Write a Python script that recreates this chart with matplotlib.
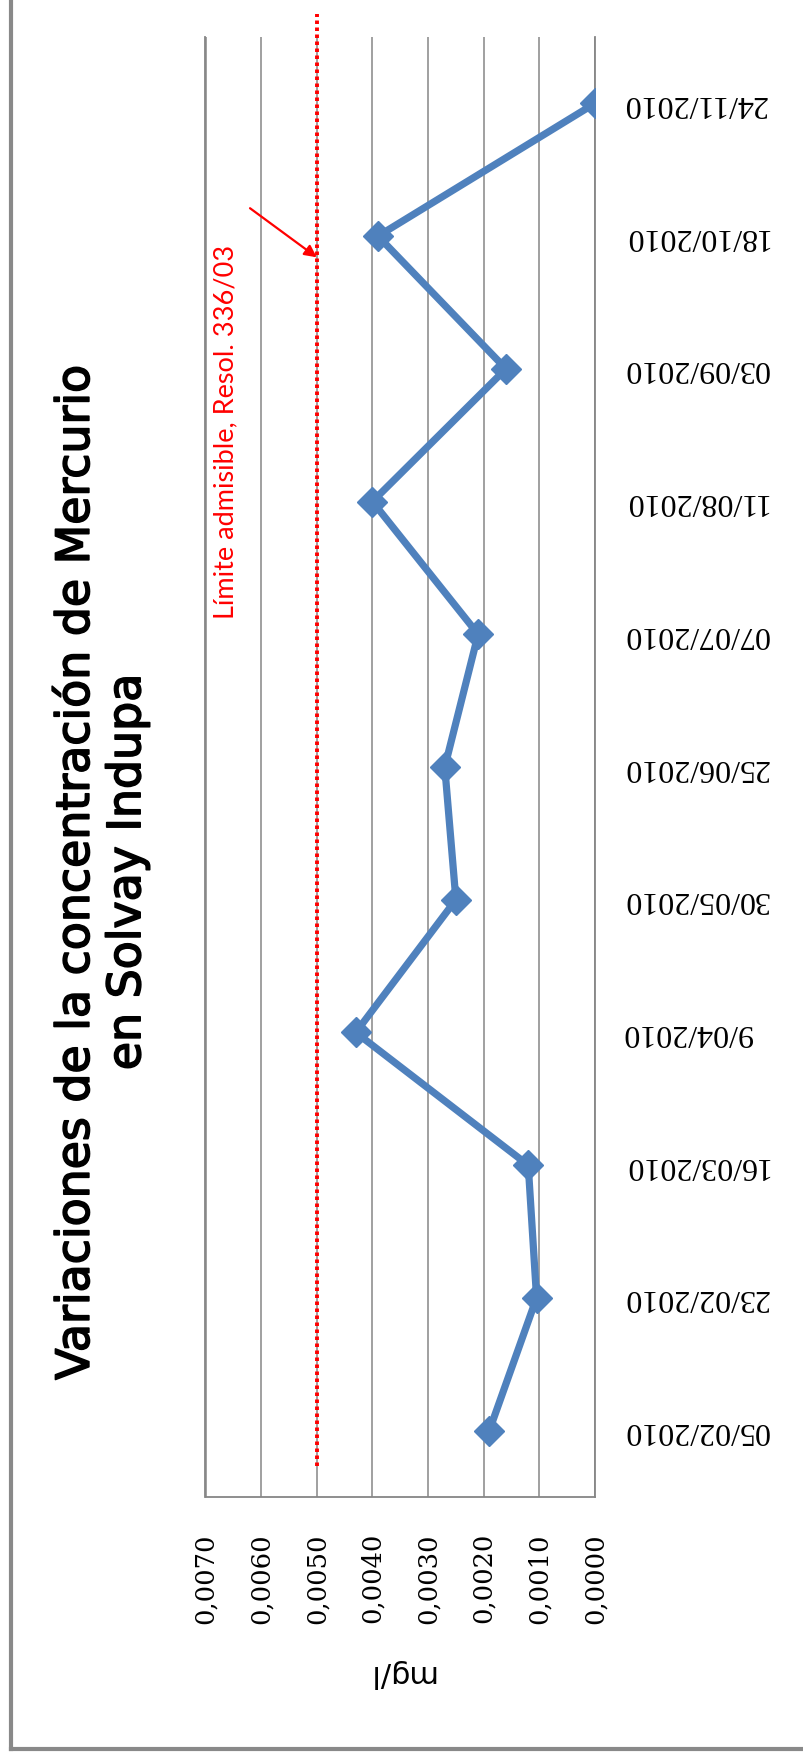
import matplotlib
matplotlib.use("Agg")
import matplotlib.pyplot as plt
import matplotlib.patheffects as pe
from matplotlib.lines import Line2D

# Sampling dates and measured mercury concentration (mg/l)
fechas = ["05/02/2010", "23/02/2010", "16/03/2010", "9/04/2010", "30/05/2010",
          "25/06/2010", "07/07/2010", "11/08/2010", "03/09/2010", "18/10/2010",
          "24/11/2010"]
mercurio = [0.0019, 0.00105, 0.0012, 0.0043, 0.0025, 0.0027, 0.0021, 0.0040,
            0.0016, 0.0039, 0.0000]
ticks_mg = [0.0070, 0.0060, 0.0050, 0.0040, 0.0030, 0.0020, 0.0010, 0.0000]
limite = 0.0050

titulo = "Variaciones de la concentración de Mercurio\nen Solvay Indupa"
texto_limite = "Límite admisible, Resol. 336/03"

W, H = 804, 1760
fig = plt.figure(figsize=(W / 100, H / 100), dpi=100)
fig.patch.set_facecolor("white")

# plot area in pixel coordinates (left, right, top, bottom)
L, R, T, B = 205.5, 595.0, 37.0, 1497.0
ax = fig.add_axes([L / W, 1 - B / H, (R - L) / W, (B - T) / H])

grid_col = "#868686"
pos = list(range(len(fechas)))

ax.set_xlim(max(ticks_mg), min(ticks_mg))
ax.set_ylim(-0.5, len(fechas) - 0.5)

ax.set_xticks(ticks_mg)
ax.set_xticklabels([f"{v:.4f}".replace(".", ",") for v in ticks_mg],
                   rotation=90, family="DejaVu Serif", fontsize=18.5)
ax.xaxis.grid(True, color=grid_col, lw=1.1)
ax.tick_params(axis="x", length=0, pad=26)

ax.yaxis.tick_right()
ax.set_yticks(pos)
ax.set_yticklabels(fechas, rotation=180, family="Liberation Serif", fontsize=23,
                   ha="left", va="center")
ax.tick_params(axis="y", length=0, pad=20)

ax.spines["top"].set_visible(False)
for side in ("left", "right", "bottom"):
    ax.spines[side].set_color(grid_col)
    ax.spines[side].set_linewidth(1.3)

ax.set_xlabel("mg/l", rotation=180, fontsize=22, family="DejaVu Sans", va="center")
ax.xaxis.set_label_coords(0.5, (B - 1673) / (B - T))

# measured series
ax.plot(mercurio, pos, color="#4F81BD", lw=5.2, marker="D", markersize=15,
        zorder=4)

# admissible limit line (extends slightly beyond the plot area)
ax.plot([limite, limite], [-0.27, len(fechas) - 0.33], color="red", lw=2.8,
        linestyle=(0, (0.9, 0.9)), clip_on=False, zorder=3)

ax.annotate("", xy=(limite, 8.84), xytext=(0.0062, 9.21),
            arrowprops=dict(arrowstyle="-|>", color="red", lw=1.6,
                            mutation_scale=18, shrinkA=0, shrinkB=0),
            annotation_clip=False)
ax.text((226 - L) / (R - L), (B - 432) / (B - T), texto_limite, color="red",
        rotation=90, fontsize=19.5, family="Lato", ha="center", va="center",
        transform=ax.transAxes)

# chart title
fig.text(102 / W, 1 - 872 / H, titulo, rotation=90, fontsize=33,
         family="DejaVu Sans", ha="center", va="center", multialignment="center",
         linespacing=1.18,
         path_effects=[pe.withStroke(linewidth=1.2, foreground="black")])

# chart-area border (left and bottom edges)
border = "#898989"
fig.add_artist(Line2D([11 / W, 11 / W], [1 - 1749 / H, 1.0], color=border, lw=3,
                      transform=fig.transFigure))
fig.add_artist(Line2D([11 / W, 1.0], [1 - 1749 / H, 1 - 1749 / H], color=border,
                      lw=3, transform=fig.transFigure))

fig.savefig("out.png", dpi=100)
